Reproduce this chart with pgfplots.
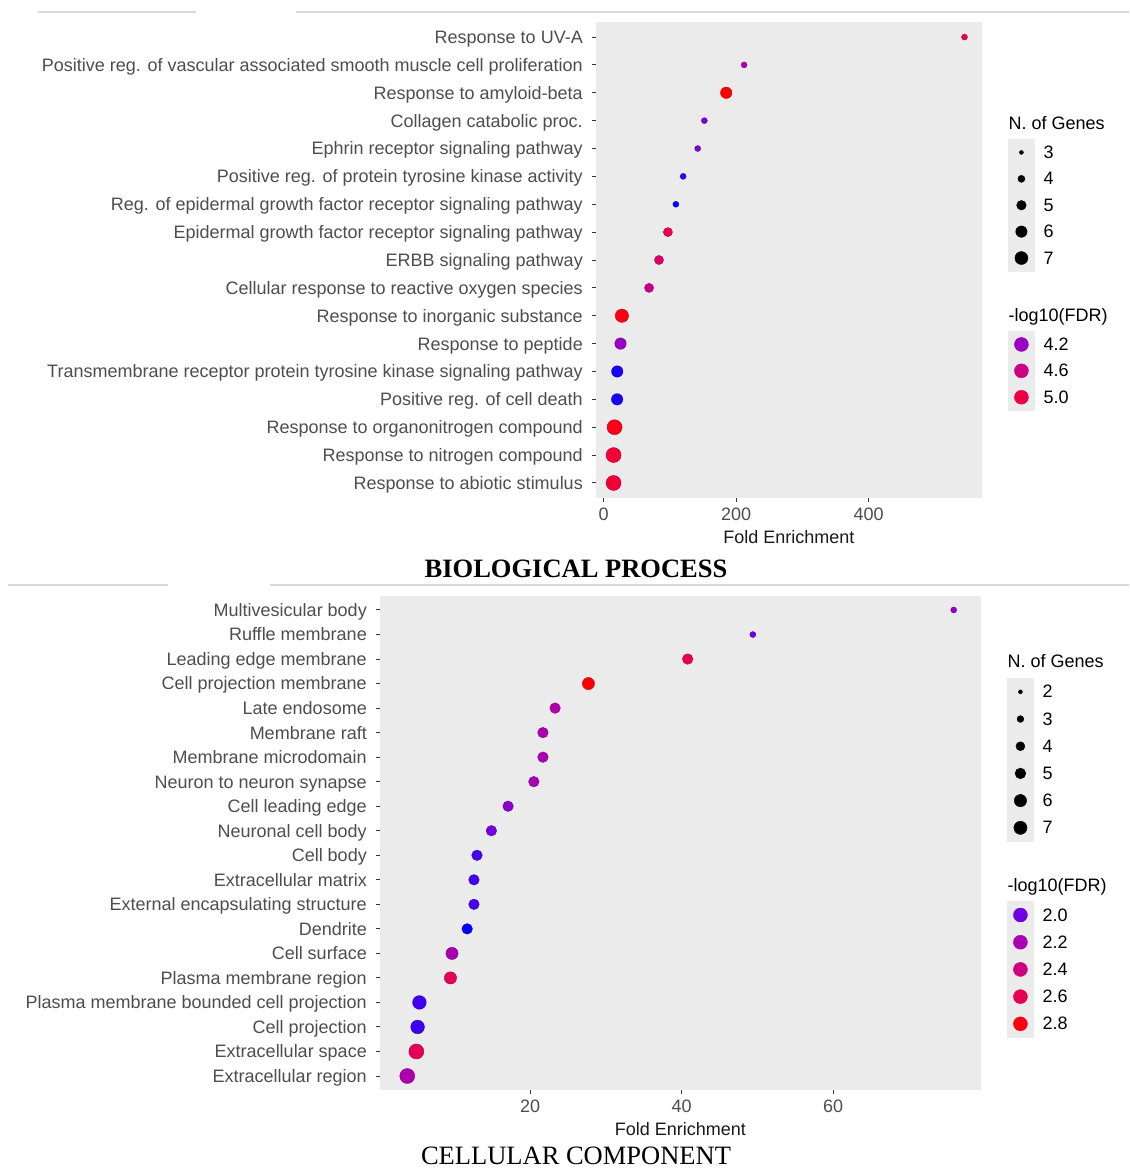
\documentclass[border=0pt]{standalone}
\usepackage{fontspec}
\setmainfont{Liberation Sans}
\newfontfamily\titleserif{Liberation Serif}
\usepackage{pgfplots}
\pgfplotsset{compat=1.18}
\usepackage{pgfplotstable}

\definecolor{panelbg}{HTML}{EBEBEB}
\definecolor{ticktext}{HTML}{4D4D4D}
\definecolor{tickcol}{HTML}{333333}
\definecolor{sepline}{HTML}{DADADA}
% legend key colours (top panel)
\definecolor{tA}{RGB}{154,0,195}
\definecolor{tB}{RGB}{205,0,130}
\definecolor{tC}{RGB}{237,0,68}
% legend key colours (bottom panel)
\definecolor{bA}{RGB}{111,0,226}
\definecolor{bB}{RGB}{171,0,176}
\definecolor{bC}{RGB}{207,0,128}
\definecolor{bD}{RGB}{231,0,82}
\definecolor{bE}{RGB}{251,0,20}

% Biological process: y = row position from bottom
\pgfplotstableread{
y fe n fdr
17 544.6 3 5.03
16 212.0 3 4.35
15 185.0 5 5.29
14 152.0 3 4.10
13 142.0 3 4.07
12 120.0 3 3.91
11 109.0 3 3.84
10 97.0 4 4.93
9 83.6 4 4.78
8 68.6 4 4.53
7 27.6 6 5.22
6 25.5 5 4.20
5 20.6 5 3.87
4 20.4 5 3.87
3 16.5 7 5.19
2 15.0 7 5.07
1 15.0 7 5.07
}\bpdata

% Cellular component
\pgfplotstableread{
y fe n fdr
20 75.9 2 2.12
19 49.4 2 2.00
18 40.8 4 2.59
17 27.7 5 2.85
16 23.3 4 2.22
15 21.7 4 2.20
14 21.7 4 2.20
13 20.5 4 2.18
12 17.1 4 2.08
11 14.9 4 2.02
10 13.0 4 1.95
9 12.6 4 1.95
8 12.6 4 1.95
7 11.7 4 1.884
6 9.7 5 2.18
5 9.5 5 2.57
4 5.4 6 1.94
3 5.16 6 1.94
2 5.0 7 2.57
1 3.8 7 2.20
}\ccdata

\pgfplotsset{
  ggaxis/.style={
    scale only axis,
    axis background/.style={fill=panelbg},
    axis line style={draw=none},
    tick align=outside,
    major tick length=4pt,
    xtick pos=left, ytick pos=left,
    tick style={draw=tickcol, line width=1pt},
    /pgf/number format/assume math mode=true,
    tick label style={font=\fontsize{18}{20}\selectfont, text=ticktext},
    yticklabel style={anchor=base east, inner sep=0pt, xshift=-9pt, yshift=-6.4pt},
    xticklabel style={anchor=north, inner sep=0pt, yshift=-6pt},
    xlabel style={font=\fontsize{18}{20}\selectfont, text=black!90},
    colormap={ggbr}{rgb255(0cm)=(0,0,255) rgb255(1cm)=(104,0,231) rgb255(2.5cm)=(154,0,195) rgb255(3.75cm)=(181,0,165) rgb255(5cm)=(202,0,136) rgb255(6.25cm)=(218,0,108) rgb255(7.5cm)=(232,0,80) rgb255(8.75cm)=(244,0,49) rgb255(10cm)=(255,0,0)},
    legend style={draw=none, fill=none, inner sep=0pt, row sep=0pt, column sep=0pt,
      anchor=north west, font=\fontsize{18}{20}\selectfont,
      nodes={inner sep=0pt, text depth=}, cells={anchor=base west}},
  },
  tkey/.style={legend image code/.code={\fill[panelbg] (0pt,-7pt) rectangle (26pt,19pt); \fill[#1] (13pt,6pt) circle (7pt); \path (35pt,6pt);}},
  tsize/.style={legend image code/.code={\fill[panelbg] (0pt,-7pt) rectangle (26pt,19pt); \fill[black] (13pt,6pt) circle (#1); \path (35pt,6pt);}},
  bkey/.style={legend image code/.code={\fill[panelbg] (0pt,-7.4pt) rectangle (26pt,19.4pt); \fill[#1] (13pt,6pt) circle (7pt); \path (35pt,6pt);}},
  bsize/.style={legend image code/.code={\fill[panelbg] (0pt,-7.4pt) rectangle (26pt,19.4pt); \fill[black] (13pt,6pt) circle (#1); \path (35pt,6pt);}},
}

\begin{document}
\begin{tikzpicture}
\useasboundingbox (0,0) rectangle (1129pt,-1169pt);
\draw[sepline, line width=1.5pt] (38pt,-12pt) -- (196pt,-12pt);
\draw[sepline, line width=1.5pt] (296pt,-12pt) -- (1129pt,-12pt);
\draw[sepline, line width=1.5pt] (8pt,-585pt) -- (168pt,-585pt);
\draw[sepline, line width=1.5pt] (270pt,-585pt) -- (1129pt,-585pt);

\begin{axis}[ggaxis,
  at={(596pt,-22pt)}, anchor=north west,
  width=386pt, height=476pt,
  xmin=-11.5, xmax=571, ymin=0.46, ymax=17.54,
  xtick={0,200,400}, ytick={1,...,17},
  yticklabels={Response to abiotic stimulus, Response to nitrogen compound, Response to organonitrogen compound, Positive reg. of cell death, Transmembrane receptor protein tyrosine kinase signaling pathway, Response to peptide, Response to inorganic substance, Cellular response to reactive oxygen species, ERBB signaling pathway, Epidermal growth factor receptor signaling pathway, Reg. of epidermal growth factor receptor signaling pathway, Positive reg. of protein tyrosine kinase activity, Ephrin receptor signaling pathway, Collagen catabolic proc., Response to amyloid-beta, Positive reg. of vascular associated smooth muscle cell proliferation, Response to UV-A},
  xlabel={Fold Enrichment},
  xlabel style={at={(axis description cs:0.5,-0.082)}, anchor=center},
  point meta min=3.836, point meta max=5.29,
  legend style={at={(axis description cs:1.0674,0.8025)}},
]
\addplot[scatter, only marks, mark=*, forget plot, scatter src=explicit,
  visualization depends on={0.5*sqrt(36+(\thisrow{n}-3)*47.25) \as \msz},
  scatter/@pre marker code/.append style={/tikz/mark size=\msz}]
  table[x=fe, y=y, meta=fdr]{\bpdata};
\addlegendimage{empty legend}\addlegendentry{\hspace*{-35pt}N. of Genes\rule[-10pt]{0pt}{23pt}}
\addlegendimage{tsize=2pt}\addlegendentry{3}
\addlegendimage{tsize=3.55pt}\addlegendentry{4}
\addlegendimage{tsize=4.8pt}\addlegendentry{5}
\addlegendimage{tsize=5.7pt}\addlegendentry{6}
\addlegendimage{tsize=6.5pt}\addlegendentry{7}
\addlegendimage{empty legend}\addlegendentry{\hspace*{-35pt}-log10(FDR)\rule[-10pt]{0pt}{60pt}}
\addlegendimage{tkey=tA}\addlegendentry{4.2}
\addlegendimage{tkey=tB}\addlegendentry{4.6}
\addlegendimage{tkey=tC}\addlegendentry{5.0}
\end{axis}

\begin{axis}[ggaxis,
  at={(380pt,-596pt)}, anchor=north west,
  width=601pt, height=494pt,
  xmin=0.2, xmax=79.5, ymin=0.43, ymax=20.57,
  xtick={20,40,60}, ytick={1,...,20},
  yticklabels={Extracellular region, Extracellular space, Cell projection, Plasma membrane bounded cell projection, Plasma membrane region, Cell surface, Dendrite, External encapsulating structure, Extracellular matrix, Cell body, Neuronal cell body, Cell leading edge, Neuron to neuron synapse, Membrane microdomain, Membrane raft, Late endosome, Cell projection membrane, Leading edge membrane, Ruffle membrane, Multivesicular body},
  xlabel={Fold Enrichment},
  xlabel style={at={(axis description cs:0.5,-0.079)}, anchor=center},
  point meta min=1.884, point meta max=2.848,
  legend style={at={(axis description cs:1.0433,0.8826)}},
]
\addplot[scatter, only marks, mark=*, forget plot, scatter src=explicit,
  visualization depends on={0.5*sqrt(36+(\thisrow{n}-2)*37.8) \as \msz},
  scatter/@pre marker code/.append style={/tikz/mark size=\msz}]
  table[x=fe, y=y, meta=fdr]{\ccdata};
\addlegendimage{empty legend}\addlegendentry{\hspace*{-35pt}N. of Genes\rule[-11pt]{0pt}{24pt}}
\addlegendimage{bsize=2pt}\addlegendentry{2}
\addlegendimage{bsize=3.4pt}\addlegendentry{3}
\addlegendimage{bsize=4.5pt}\addlegendentry{4}
\addlegendimage{bsize=5.4pt}\addlegendentry{5}
\addlegendimage{bsize=6.2pt}\addlegendentry{6}
\addlegendimage{bsize=6.6pt}\addlegendentry{7}
\addlegendimage{empty legend}\addlegendentry{\hspace*{-35pt}-log10(FDR)\rule[-10pt]{0pt}{60pt}}
\addlegendimage{bkey=bA}\addlegendentry{2.0}
\addlegendimage{bkey=bB}\addlegendentry{2.2}
\addlegendimage{bkey=bC}\addlegendentry{2.4}
\addlegendimage{bkey=bD}\addlegendentry{2.6}
\addlegendimage{bkey=bE}\addlegendentry{2.8}
\end{axis}

\node[font=\titleserif\bfseries\fontsize{26.5}{30}\selectfont, inner sep=0pt] at (576pt,-569pt) {BIOLOGICAL PROCESS};
\node[font=\titleserif\fontsize{26.5}{30}\selectfont, inner sep=0pt] at (576pt,-1156pt) {CELLULAR COMPONENT};
\end{tikzpicture}
\end{document}
